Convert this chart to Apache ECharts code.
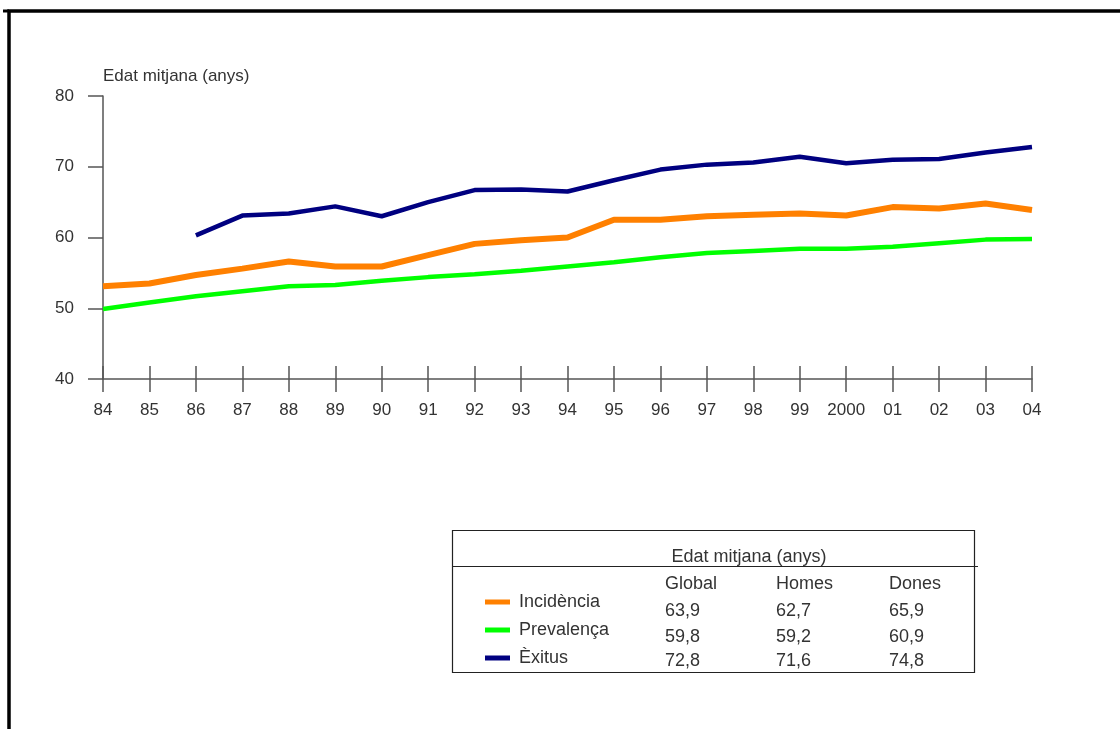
<!DOCTYPE html>
<html>
<head>
<meta charset="utf-8">
<title>Edat mitjana</title>
<script src="https://cdn.jsdelivr.net/npm/echarts@6/dist/echarts.min.js"></script>
<style>
  html, body { margin: 0; padding: 0; background: #fff; }
  #chart { width: 1120px; height: 729px; }
</style>
</head>
<body>
<div id="chart"></div>
<script>
// Years on the horizontal axis
var years = ['84', '85', '86', '87', '88', '89', '90', '91', '92', '93', '94',
             '95', '96', '97', '98', '99', '2000', '01', '02', '03', '04'];

// Mean age (years) per series
var incidencia = [53.1, 53.5, 54.7, 55.6, 56.6, 55.9, 55.9, 57.5, 59.1, 59.6, 60.0,
                  62.5, 62.5, 63.0, 63.2, 63.4, 63.1, 64.3, 64.1, 64.8, 63.9];
var prevalenca = [49.9, 50.8, 51.7, 52.4, 53.1, 53.3, 53.9, 54.4, 54.8, 55.3, 55.9,
                  56.5, 57.2, 57.8, 58.1, 58.4, 58.4, 58.7, 59.2, 59.7, 59.8];
var exitus     = [null, null, 60.3, 63.1, 63.4, 64.4, 63.0, 65.0, 66.7, 66.8, 66.5,
                  68.1, 69.6, 70.3, 70.6, 71.4, 70.5, 71.0, 71.1, 72.0, 72.8];

// Summary table (latest year)
var tableTitle = 'Edat mitjana (anys)';
var tableColumns = ['Global', 'Homes', 'Dones'];
var tableIncidencia = [63.9, 62.7, 65.9];
var tablePrevalenca = [59.8, 59.2, 60.9];
var tableExitus = [72.8, 71.6, 74.8];

var seriesNames = ['Incidència', 'Prevalença', 'Èxitus'];
var seriesColors = ['#FF8000', '#00FF00', '#000080'];

var FONT = "'Liberation Sans', Arial, sans-serif";
var TXT = '#333333';
var AXIS = '#555555';

function fmt(v) { return v.toFixed(1).replace('.', ','); }

// Table graphics
var colX = [665, 776, 889];
var rowY = [611, 637, 661];
var tableRows = [tableIncidencia, tablePrevalenca, tableExitus];
var graphics = [
  // outer frame
  { type: 'polyline', silent: true,
    shape: { points: [[9, 729], [9, 11], [1120, 11]] },
    style: { stroke: '#000', lineWidth: 3.5, fill: null } },
  { type: 'line', silent: true,
    shape: { x1: 3, y1: 11, x2: 9, y2: 11 },
    style: { stroke: '#000', lineWidth: 3 } },
  // table box
  { type: 'rect', silent: true,
    shape: { x: 452.5, y: 530.5, width: 522, height: 142 },
    style: { stroke: '#222', lineWidth: 1.2, fill: null } },
  { type: 'line', silent: true,
    shape: { x1: 452.5, y1: 566.5, x2: 978, y2: 566.5 },
    style: { stroke: '#222', lineWidth: 1.2 } },
  { type: 'text', silent: true,
    style: { text: tableTitle, x: 749, y: 557, fill: TXT, font: '18px ' + FONT,
             align: 'center', verticalAlign: 'middle' } }
];
tableColumns.forEach(function (c, i) {
  graphics.push({ type: 'text', silent: true,
    style: { text: c, x: colX[i], y: 584, fill: TXT, font: '18px ' + FONT,
             align: 'left', verticalAlign: 'middle' } });
});
tableRows.forEach(function (row, r) {
  row.forEach(function (v, i) {
    graphics.push({ type: 'text', silent: true,
      style: { text: fmt(v), x: colX[i], y: rowY[r], fill: TXT, font: '18px ' + FONT,
               align: 'left', verticalAlign: 'middle' } });
  });
});

var chart = echarts.init(document.getElementById('chart'), null, { renderer: 'canvas' });

chart.setOption({
  animation: false,
  backgroundColor: '#ffffff',
  grid: { left: 103, right: 88, top: 96, bottom: 350, containLabel: false },
  legend: {
    orient: 'vertical',
    left: 480,
    top: 588,
    itemWidth: 25,
    itemHeight: 5,
    itemGap: 10,
    icon: 'rect',
    data: seriesNames,
    textStyle: { fontFamily: FONT, fontSize: 18, color: TXT, padding: [0, 0, 0, 4] },
    selectedMode: false
  },
  xAxis: [
    {
      type: 'category',
      data: years,
      boundaryGap: false,
      axisLine: { show: true, lineStyle: { color: AXIS, width: 1.5 } },
      axisTick: { show: true, alignWithLabel: true, length: 13, lineStyle: { color: AXIS, width: 1.5 } },
      axisLabel: { fontFamily: FONT, fontSize: 17, color: TXT, margin: 23, interval: 0 },
      splitLine: { show: false }
    },
    {
      type: 'category',
      data: years,
      boundaryGap: false,
      position: 'bottom',
      axisLine: { show: false },
      axisTick: { show: true, inside: true, length: 13, lineStyle: { color: AXIS, width: 1.5 } },
      axisLabel: { show: false },
      splitLine: { show: false }
    }
  ],
  yAxis: {
    type: 'value',
    min: 40,
    max: 80,
    interval: 10,
    name: 'Edat mitjana (anys)',
    nameLocation: 'end',
    nameGap: 11,
    nameTextStyle: { fontFamily: FONT, fontSize: 17, color: TXT, align: 'left' },
    axisLine: { show: true, lineStyle: { color: AXIS, width: 1.5 } },
    axisTick: { show: true, length: 15, lineStyle: { color: AXIS, width: 1.5 } },
    axisLabel: { fontFamily: FONT, fontSize: 17, color: TXT, margin: 29 },
    splitLine: { show: false }
  },
  series: [
    { name: seriesNames[0], type: 'line', data: incidencia, showSymbol: false,
      color: seriesColors[0], lineStyle: { color: seriesColors[0], width: 6 } },
    { name: seriesNames[1], type: 'line', data: prevalenca, showSymbol: false,
      color: seriesColors[1], lineStyle: { color: seriesColors[1], width: 4.5 } },
    { name: seriesNames[2], type: 'line', data: exitus, showSymbol: false, connectNulls: false,
      color: seriesColors[2], lineStyle: { color: seriesColors[2], width: 4.5 } }
  ],
  graphic: graphics
});
</script>
</body>
</html>
